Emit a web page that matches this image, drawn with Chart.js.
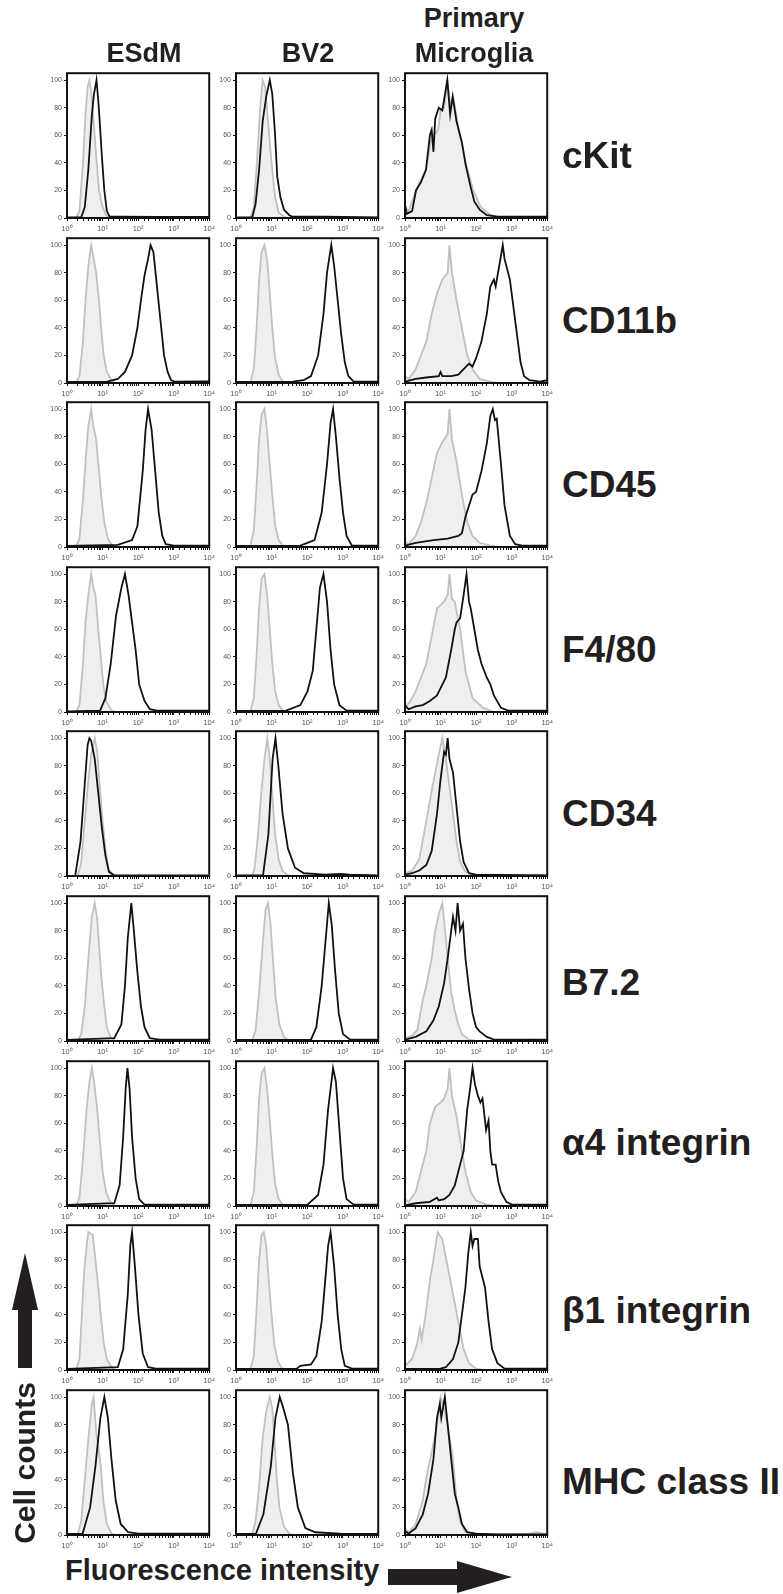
<!DOCTYPE html>
<html>
<head>
<meta charset="utf-8">
<script src="https://cdn.jsdelivr.net/npm/chart.js@4.4.1/dist/chart.umd.min.js"></script>
<style>
  body { margin: 0; background: #fff; }
  #fig { position: relative; width: 783px; height: 1594px; overflow: hidden;
         font-family: "Liberation Sans", Arial, sans-serif; color: #231f20; }
  #fig canvas { position: absolute; }
  .lbl { position: absolute; font-weight: bold; white-space: nowrap; line-height: 1; }
</style>
</head>
<body>
<div id="fig"></div>
<script>
const cellTypes = ['ESdM', 'BV2', 'Primary Microglia'];
const markers = ['cKit', 'CD11b', 'CD45', 'F4/80', 'CD34', 'B7.2', 'α4 integrin', 'β1 integrin', 'MHC class II'];
const xTicks = [1, 10, 100, 1000, 10000];
const xTickLabels = ['10⁰', '10¹', '10²', '10³', '10⁴'];
const yTicks = [0, 20, 40, 60, 80, 100];

// each curve: [log10 fluorescence, % of max], one per marker row
const esdmIsotype = [
  [[0,0],[0.25,0],[0.35,5],[0.45,40],[0.52,75],[0.58,95],[0.63,100],[0.68,92],[0.75,70],[0.82,45],[0.9,20],[1.0,8],[1.1,2],[1.2,0],[4,0]],
  [[0,0],[0.25,0],[0.35,5],[0.45,30],[0.52,60],[0.6,85],[0.68,100],[0.75,90],[0.82,80],[0.9,60],[0.96,40],[1.03,20],[1.12,8],[1.25,2],[1.35,0],[4,0]],
  [[0,0],[0.25,0],[0.35,6],[0.45,35],[0.53,65],[0.6,88],[0.68,100],[0.74,88],[0.82,78],[0.9,55],[0.97,35],[1.05,18],[1.15,6],[1.28,1],[1.4,0],[4,0]],
  [[0,0],[0.25,0],[0.35,5],[0.45,35],[0.52,65],[0.6,85],[0.68,100],[0.74,90],[0.8,85],[0.88,60],[0.95,40],[1.02,20],[1.1,8],[1.25,1],[1.35,0],[4,0]],
  [[0,0],[0.3,0],[0.4,10],[0.5,40],[0.6,70],[0.68,88],[0.78,100],[0.85,90],[0.92,65],[1.0,40],[1.08,20],[1.17,5],[1.3,0],[4,0]],
  [[0,0],[0.3,0],[0.4,5],[0.5,25],[0.6,60],[0.7,90],[0.78,100],[0.85,88],[0.9,70],[0.97,45],[1.05,25],[1.12,10],[1.22,3],[1.35,0],[4,0]],
  [[0,0],[0.25,0],[0.35,6],[0.45,35],[0.55,70],[0.63,90],[0.7,100],[0.77,88],[0.85,70],[0.93,45],[1.0,25],[1.1,10],[1.22,3],[1.35,0],[4,0]],
  [[0,0],[0.25,0],[0.35,8],[0.48,70],[0.55,90],[0.6,100],[0.72,98],[0.78,85],[0.88,60],[0.95,40],[1.03,20],[1.12,8],[1.23,3],[1.35,0],[4,0]],
  [[0,0],[0.3,0],[0.4,10],[0.5,40],[0.6,70],[0.7,95],[0.75,100],[0.82,75],[0.9,60],[0.95,50],[1.02,25],[1.12,8],[1.25,1],[1.35,0],[4,0]]
];
const esdmStained = [
  [[0,0.5],[0.4,0.5],[0.5,8],[0.6,35],[0.7,75],[0.76,90],[0.83,100],[0.88,85],[0.92,70],[0.98,45],[1.05,20],[1.12,5],[1.2,1],[1.6,1],[2.5,0.8],[4,0.8]],
  [[0,0.8],[1.13,1],[1.43,3],[1.63,8],[1.83,20],[1.98,40],[2.08,60],[2.18,78],[2.28,90],[2.35,100],[2.43,95],[2.53,70],[2.63,45],[2.73,20],[2.83,8],[2.93,2],[3.03,1],[4,1.2]],
  [[0,0.8],[1.43,1.5],[1.83,5],[1.98,15],[2.13,55],[2.21,85],[2.28,100],[2.38,85],[2.48,55],[2.58,25],[2.68,8],[2.78,2],[3.0,1],[4,1]],
  [[0,0.5],[0.93,1],[1.08,10],[1.23,35],[1.38,70],[1.53,90],[1.63,100],[1.73,85],[1.83,65],[1.93,45],[2.03,20],[2.18,8],[2.33,2],[2.53,1],[4,1]],
  [[0,0],[0.23,0],[0.38,25],[0.48,60],[0.58,95],[0.63,100],[0.68,98],[0.78,85],[0.88,60],[0.98,35],[1.08,15],[1.18,3],[1.33,0.5],[4,0.5]],
  [[0,0.8],[1.33,2],[1.53,12],[1.63,40],[1.71,75],[1.81,100],[1.88,80],[1.98,50],[2.08,25],[2.18,10],[2.33,2],[2.6,1],[4,1]],
  [[0,0.8],[1.33,2],[1.48,15],[1.58,50],[1.65,85],[1.7,100],[1.76,85],[1.83,50],[1.93,20],[2.03,5],[2.18,1],[4,1]],
  [[0,0.8],[1.43,2],[1.58,15],[1.71,55],[1.78,90],[1.83,100],[1.91,75],[2.01,40],[2.13,12],[2.28,2],[2.5,1],[4,1]],
  [[0,0.8],[0.44,1],[0.65,20],[0.8,50],[0.94,85],[1.05,100],[1.15,85],[1.25,55],[1.37,25],[1.51,8],[1.72,2],[2.0,1],[4,1]]
];
const bv2Isotype = [
  [[0,0],[0.4,0],[0.5,8],[0.6,45],[0.68,80],[0.75,100],[0.82,95],[0.9,70],[1.0,40],[1.1,15],[1.2,4],[1.35,1],[1.45,0],[4,0]],
  [[0,0],[0.4,0],[0.5,10],[0.58,40],[0.65,75],[0.72,95],[0.8,100],[0.88,88],[0.95,65],[1.02,40],[1.1,18],[1.2,6],[1.32,1],[1.45,0],[4,0]],
  [[0,0],[0.4,0],[0.5,12],[0.58,45],[0.65,78],[0.72,96],[0.8,100],[0.87,85],[0.94,62],[1.02,38],[1.1,16],[1.2,5],[1.32,1],[1.45,0],[4,0]],
  [[0,0],[0.4,0],[0.5,10],[0.58,42],[0.65,76],[0.72,97],[0.8,100],[0.87,86],[0.95,60],[1.02,36],[1.1,15],[1.2,5],[1.32,1],[1.45,0],[4,0]],
  [[0,0],[0.45,0],[0.52,5],[0.62,30],[0.71,60],[0.8,85],[0.88,100],[0.95,85],[1.03,55],[1.1,30],[1.2,12],[1.3,4],[1.42,1],[1.55,0],[4,0]],
  [[0,0],[0.45,0],[0.55,8],[0.65,35],[0.75,70],[0.83,95],[0.9,100],[0.97,85],[1.05,55],[1.12,30],[1.22,12],[1.35,3],[1.5,0],[4,0]],
  [[0,0],[0.4,0],[0.5,10],[0.58,42],[0.65,78],[0.72,96],[0.8,100],[0.87,86],[0.95,62],[1.02,38],[1.1,16],[1.2,5],[1.32,1],[1.45,0],[4,0]],
  [[0,0],[0.4,0],[0.5,10],[0.58,45],[0.65,80],[0.72,98],[0.78,100],[0.85,90],[0.92,65],[1.0,40],[1.08,18],[1.18,6],[1.3,1],[1.45,0],[4,0]],
  [[0,0],[0.45,0],[0.55,10],[0.65,35],[0.75,70],[0.85,90],[0.95,100],[1.02,92],[1.08,70],[1.15,40],[1.22,20],[1.35,6],[1.5,1],[1.6,0],[4,0]]
];
const bv2Stained = [
  [[0,0.5],[0.46,0.5],[0.55,10],[0.65,35],[0.75,70],[0.85,88],[0.95,100],[1.02,90],[1.1,60],[1.16,30],[1.25,15],[1.35,6],[1.5,2],[1.58,1],[2.5,1],[4,0.5]],
  [[0,0.8],[1.6,1],[1.9,2],[2.11,5],[2.31,20],[2.46,50],[2.56,80],[2.62,90],[2.68,100],[2.76,85],[2.86,60],[2.96,35],[3.06,15],[3.16,5],[3.31,1],[4,1]],
  [[0,0.8],[1.81,1],[2.21,5],[2.41,25],[2.56,60],[2.66,90],[2.73,100],[2.81,80],[2.91,50],[3.01,25],[3.11,8],[3.26,1],[4,1]],
  [[0,0.8],[1.41,1],[1.81,5],[2.01,15],[2.16,30],[2.26,60],[2.36,90],[2.46,100],[2.56,80],[2.66,45],[2.76,20],[2.91,5],[3.11,1],[4,1]],
  [[0,0.5],[0.76,0.5],[0.91,30],[1.03,85],[1.11,100],[1.19,80],[1.31,45],[1.46,20],[1.66,6],[1.91,2],[2.5,1],[2.95,1.5],[3.2,1],[4,0.5]],
  [[0,0.8],[2.11,1],[2.26,10],[2.41,40],[2.51,70],[2.61,100],[2.69,85],[2.79,50],[2.89,20],[3.01,5],[3.21,1],[4,1]],
  [[0,0.8],[2.01,1],[2.31,8],[2.46,30],[2.59,70],[2.66,85],[2.73,100],[2.81,90],[2.91,55],[3.01,20],[3.11,5],[3.31,1],[4,1]],
  [[0,0.8],[1.71,1],[1.81,3],[2.11,4],[2.26,10],[2.41,35],[2.51,65],[2.59,90],[2.66,100],[2.76,75],[2.86,40],[2.96,15],[3.06,3],[3.26,1],[4,1]],
  [[0,0.8],[0.56,0.8],[0.77,15],[0.98,50],[1.11,85],[1.23,100],[1.32,93],[1.46,80],[1.6,45],[1.74,20],[1.95,5],[2.23,2],[2.93,1],[4,0.8]]
];
const microgliaIsotype = [
  [[0,8],[0.1,5],[0.31,20],[0.45,28],[0.59,35],[0.72,55],[0.8,60],[0.88,62],[0.94,65],[1.0,78],[1.1,80],[1.19,100],[1.29,80],[1.36,88],[1.5,65],[1.71,40],[1.92,20],[2.13,8],[2.41,2],[2.7,0],[4,0]],
  [[0,5],[0.1,3],[0.3,10],[0.45,20],[0.6,30],[0.75,50],[0.9,65],[1.05,75],[1.2,80],[1.25,100],[1.32,80],[1.45,60],[1.6,40],[1.75,20],[1.9,10],[2.1,3],[2.4,1],[2.6,0],[4,0]],
  [[0,4],[0.1,2],[0.3,8],[0.45,18],[0.6,32],[0.75,50],[0.9,68],[1.05,76],[1.2,82],[1.25,100],[1.32,78],[1.45,62],[1.6,38],[1.75,18],[1.9,8],[2.1,3],[2.4,1],[2.6,0],[4,0]],
  [[0,3],[0.15,8],[0.3,15],[0.45,25],[0.6,35],[0.75,55],[0.9,75],[1.1,80],[1.2,85],[1.25,100],[1.32,82],[1.4,80],[1.55,60],[1.7,30],[1.9,10],[2.2,3],[2.5,0],[4,0]],
  [[0,2],[0.2,4],[0.4,12],[0.6,40],[0.75,62],[0.85,75],[0.95,88],[1.05,100],[1.15,85],[1.25,65],[1.35,45],[1.45,25],[1.55,10],[1.7,3],[2,0],[3.5,0],[3.7,1],[4,0]],
  [[0,2],[0.2,4],[0.35,8],[0.5,30],[0.6,40],[0.75,60],[0.85,80],[0.95,92],[1.05,100],[1.12,82],[1.2,60],[1.3,35],[1.4,22],[1.5,12],[1.6,5],[1.8,1],[2,0],[3.2,0],[3.5,1],[3.8,0],[4,0]],
  [[0,5],[0.1,3],[0.3,10],[0.45,25],[0.6,40],[0.7,60],[0.85,72],[1.0,75],[1.1,78],[1.2,85],[1.25,100],[1.32,80],[1.45,65],[1.6,40],[1.7,25],[1.85,10],[2.0,4],[2.3,1],[2.6,0],[4,0]],
  [[0,3],[0.2,8],[0.35,20],[0.42,30],[0.47,22],[0.55,35],[0.62,48],[0.7,65],[0.8,80],[0.92,100],[1.05,95],[1.12,85],[1.2,75],[1.35,55],[1.5,35],[1.65,15],[1.8,5],[2.0,1],[2.2,0],[4,0]],
  [[0,5],[0.1,2],[0.3,8],[0.5,25],[0.6,42],[0.75,60],[0.9,80],[1.0,100],[1.1,92],[1.2,80],[1.35,55],[1.45,25],[1.55,10],[1.7,2],[2,0],[3.5,1],[3.7,2],[3.9,1],[4,0]]
];
const microgliaStained = [
  [[0,10],[0.05,3],[0.2,5],[0.31,20],[0.45,26],[0.59,35],[0.7,60],[0.75,64],[0.8,48],[0.85,72],[0.95,80],[1.05,78],[1.19,100],[1.27,75],[1.34,88],[1.45,70],[1.6,55],[1.71,38],[1.85,22],[1.95,12],[2.1,6],[2.3,2],[2.6,1],[4,1]],
  [[0,1],[0.3,3],[0.6,4],[0.95,5],[1.0,8],[1.05,5],[1.3,5],[1.5,6],[1.65,10],[1.8,14],[1.9,12],[2.0,18],[2.15,30],[2.3,50],[2.4,70],[2.5,75],[2.55,70],[2.65,85],[2.75,100],[2.8,90],[2.95,75],[3.05,55],[3.15,35],[3.25,15],[3.35,5],[3.5,2],[3.8,1],[4,2]],
  [[0,1],[0.3,3],[0.8,5],[1.2,6],[1.5,8],[1.6,10],[1.7,22],[1.9,38],[2.0,40],[2.15,55],[2.3,75],[2.4,95],[2.47,100],[2.53,92],[2.58,93],[2.7,60],[2.8,30],[2.95,8],[3.1,2],[3.3,1],[4,1]],
  [[0,5],[0.1,2],[0.3,4],[0.5,5],[0.7,8],[0.9,12],[1.15,25],[1.3,45],[1.4,60],[1.45,65],[1.55,68],[1.65,85],[1.73,100],[1.8,80],[1.85,75],[1.95,60],[2.05,45],[2.1,40],[2.15,35],[2.3,25],[2.4,20],[2.5,12],[2.7,3],[2.9,1],[4,1]],
  [[0,1],[0.2,2],[0.4,4],[0.6,8],[0.75,18],[0.9,45],[1.0,70],[1.1,90],[1.15,88],[1.2,100],[1.25,85],[1.35,75],[1.45,50],[1.55,25],[1.65,10],[1.8,2],[2.0,1],[4,0.5]],
  [[0,1],[0.3,3],[0.6,7],[0.8,15],[0.95,25],[1.1,42],[1.2,60],[1.3,80],[1.35,90],[1.42,80],[1.48,100],[1.55,80],[1.63,85],[1.7,60],[1.8,38],[1.9,20],[2.0,10],[2.1,7],[2.3,3],[2.5,1],[4,1]],
  [[0,0.5],[0.3,2],[0.7,3],[0.9,6],[0.95,4],[1.1,5],[1.25,8],[1.4,15],[1.55,30],[1.65,40],[1.75,70],[1.83,85],[1.9,100],[1.97,88],[2.05,80],[2.12,75],[2.18,78],[2.28,55],[2.35,62],[2.4,40],[2.45,30],[2.55,30],[2.62,18],[2.7,10],[2.85,3],[3.0,1],[4,1]],
  [[0,0.8],[1.0,1],[1.15,2],[1.35,8],[1.5,20],[1.6,40],[1.7,60],[1.78,85],[1.85,100],[1.9,90],[1.95,95],[2.05,95],[2.1,75],[2.15,70],[2.25,60],[2.35,35],[2.45,15],[2.6,5],[2.8,1],[4,1]],
  [[0,3],[0.1,1],[0.3,5],[0.5,15],[0.65,30],[0.8,55],[0.9,85],[0.98,95],[1.02,85],[1.12,100],[1.2,80],[1.3,55],[1.4,30],[1.5,20],[1.6,8],[1.75,2],[2,1],[2.6,0.5],[4,0.5]]
];

const columns = [
  [esdmIsotype, esdmStained],
  [bv2Isotype, bv2Stained],
  [microgliaIsotype, microgliaStained]
];

// layout of the panel frames on the page
const boxLeft = [67, 236, 405];
const boxW = 143, boxH = 145;
const rowTop = r => Math.round(73 + r * 164.6);
const labelBaseline = [95, 95, 95, 95, 95, 99, 94, 98, 104];
const padL = 30, padT = 6, padR = 8, padB = 18;

Chart.defaults.font.family = '"Liberation Sans", Arial, sans-serif';
Chart.defaults.animation = false;

const fig = document.getElementById('fig');

function addLabel(text, left, top, size, extra) {
  const d = document.createElement('div');
  d.className = 'lbl';
  d.textContent = text;
  d.style.left = left + 'px';
  d.style.top = top + 'px';
  d.style.fontSize = size + 'px';
  if (extra) Object.assign(d.style, extra);
  fig.appendChild(d);
  return d;
}

const frame = {
  id: 'frame',
  afterDatasetsDraw(chart) {
    const { ctx, chartArea: a } = chart;
    ctx.save();
    ctx.lineWidth = 2;
    ctx.strokeStyle = '#111';
    ctx.strokeRect(a.left, a.top, a.right - a.left, a.bottom - a.top);
    ctx.restore();
  }
};

const toPoints = curve => curve.map(([d, y]) => ({ x: Math.pow(10, d), y: y }));

for (let r = 0; r < markers.length; r++) {
  for (let c = 0; c < cellTypes.length; c++) {
    const cv = document.createElement('canvas');
    const w = padL + boxW + padR, h = padT + boxH + padB;
    cv.width = w; cv.height = h;
    cv.style.left = (boxLeft[c] - padL) + 'px';
    cv.style.top = (rowTop(r) - padT) + 'px';
    fig.appendChild(cv);

    new Chart(cv, {
      type: 'line',
      data: {
        datasets: [
          {
            data: toPoints(columns[c][1][r]),
            borderColor: '#111', borderWidth: 1.8,
            pointRadius: 0, fill: false, tension: 0, order: 0
          },
          {
            data: toPoints(columns[c][0][r]),
            borderColor: '#c0c0c0', borderWidth: 1.8,
            backgroundColor: '#efefef', fill: 'origin',
            pointRadius: 0, tension: 0, order: 1
          }
        ]
      },
      options: {
        responsive: false,
        events: [],
        layout: { padding: { top: padT, right: padR, left: 0, bottom: 0 } },
        plugins: { legend: { display: false }, tooltip: { enabled: false } },
        scales: {
          x: {
            type: 'logarithmic', min: 1, max: 10000,
            afterFit: s => { s.height = padB; },
            border: { display: false },
            grid: { drawOnChartArea: false, drawTicks: true, tickLength: 3, color: '#111' },
            ticks: {
              autoSkip: false, maxRotation: 0, padding: 3,
              font: { size: 7.5 }, color: '#555',
              callback: v => { const i = xTicks.indexOf(v); return i >= 0 ? xTickLabels[i] : ''; }
            }
          },
          y: {
            min: 0, max: 105,
            afterFit: s => { s.width = padL; },
            afterBuildTicks: s => { s.ticks = yTicks.map(v => ({ value: v })); },
            border: { display: false },
            grid: { drawOnChartArea: false, drawTicks: true, tickLength: 3, color: '#111' },
            ticks: { padding: 2, font: { size: 7 }, color: '#555' }
          }
        }
      },
      plugins: [frame]
    });
  }
  addLabel(markers[r], 562, rowTop(r) + labelBaseline[r] - 31, 37);
}

// column headers
addLabel(cellTypes[0], 144, 40, 27, { transform: 'translateX(-50%)' });
addLabel(cellTypes[1], 308, 40, 27, { transform: 'translateX(-50%)' });
const parts = cellTypes[2].split(' ');
addLabel(parts[0], 474, 5, 27, { transform: 'translateX(-50%)' });
addLabel(parts[1], 474, 40, 27, { transform: 'translateX(-50%)' });

// axis captions
addLabel('Cell counts', -75, 1448, 30, {
  width: '200px', textAlign: 'center', transform: 'rotate(-90deg)'
});
addLabel('Fluorescence intensity', 65, 1556, 29);

// arrows
const svgNS = 'http://www.w3.org/2000/svg';
const svg = document.createElementNS(svgNS, 'svg');
svg.setAttribute('width', 783); svg.setAttribute('height', 1594);
svg.style.position = 'absolute'; svg.style.left = '0'; svg.style.top = '0';
svg.style.pointerEvents = 'none';
[
  '18,1368 32,1368 32,1310 38,1310 25,1253 12,1310 18,1310',
  '388,1569 457,1569 457,1561 512,1577 457,1593 457,1585 388,1585'
].forEach(p => {
  const poly = document.createElementNS(svgNS, 'polygon');
  poly.setAttribute('points', p);
  poly.setAttribute('fill', '#231f20');
  svg.appendChild(poly);
});
fig.appendChild(svg);
</script>
</body>
</html>
